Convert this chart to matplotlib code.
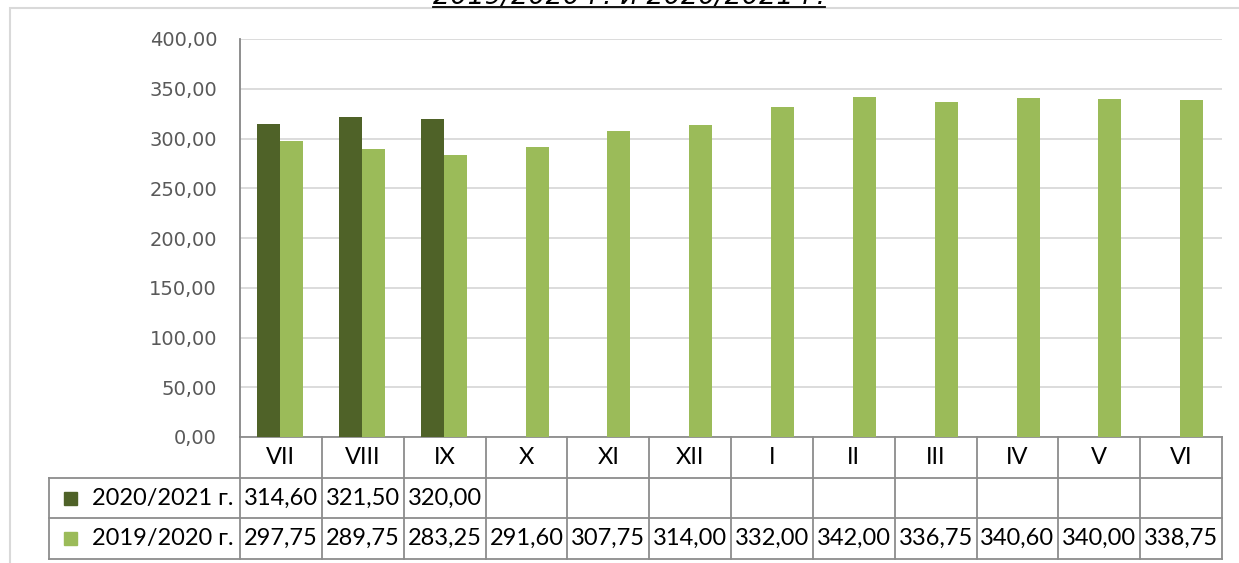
import matplotlib.pyplot as plt
from matplotlib.patches import Rectangle
from matplotlib.ticker import FuncFormatter, MultipleLocator
from matplotlib.lines import Line2D

months = ['VII', 'VIII', 'IX', 'X', 'XI', 'XII', 'I', 'II', 'III', 'IV', 'V', 'VI']
season_2021 = [314.60, 321.50, 320.00]
season_2020 = [297.75, 289.75, 283.25, 291.60, 307.75, 314.00,
               332.00, 342.00, 336.75, 340.60, 340.00, 338.75]
labels = ['2020/2021 г.', '2019/2020 г.']
title = '2019/2020 г. и 2020/2021 г.'

dark = '#4F6228'
light = '#9BBB59'
line_col = '#8C8C8C'


def fmt(v):
    return f'{v:.2f}'.replace('.', ',')


fig = plt.figure(figsize=(12.39, 5.63), dpi=100)
ax = fig.add_axes([240 / 1239, 126 / 563, 982 / 1239, 398 / 563])

x = list(range(len(months)))
ax.bar([i - 0.15 for i in x[:len(season_2021)]], season_2021, width=0.28, color=dark, zorder=3)
ax.bar([i + 0.13 for i in x], season_2020, width=0.28, color=light, zorder=3)

ax.set_xlim(-0.5, len(months) - 0.5)
ax.set_ylim(0, 400)
ax.yaxis.set_major_locator(MultipleLocator(50))
ax.yaxis.set_major_formatter(FuncFormatter(lambda v, p: fmt(v)))
ax.tick_params(axis='y', length=0, pad=16.5, labelsize=14, labelcolor='#595959')
ax.set_xticks([])
ax.grid(axis='y', color='#D9D9D9', linewidth=1.3, zorder=0)
for s in ['top', 'right', 'bottom']:
    ax.spines[s].set_visible(False)
ax.spines['left'].set_color('#868686')
ax.spines['left'].set_linewidth(1.3)

# data table under the plot
tr = ax.get_xaxis_transform()
row_h = 40.7 / 398
px = 982 / 12
label_left = -0.5 - 191 / px
tfont = dict(family='Lato', fontsize=17, color='black')
kw = dict(transform=tr, clip_on=False, color=line_col, linewidth=1.3)

# horizontal lines
ax.add_line(Line2D([-0.5, 11.5], [0, 0], **kw))
for k in (1, 2, 3):
    ax.add_line(Line2D([label_left, 11.5], [-k * row_h, -k * row_h], **kw))
# vertical lines
for b in [i - 0.5 for i in x] + [11.5]:
    ax.add_line(Line2D([b, b], [0, -3 * row_h], **kw))
ax.add_line(Line2D([label_left, label_left], [-row_h, -3 * row_h], **kw))

for i, m in enumerate(months):
    ax.text(i, -0.5 * row_h, m, ha='center', va='center', transform=tr, **tfont)

rows = [season_2021, season_2020]
colors = [dark, light]
for r, (vals, lab, c) in enumerate(zip(rows, labels, colors)):
    yc = -(r + 1.5) * row_h
    for i, v in enumerate(vals):
        ax.text(i, yc, fmt(v), ha='center', va='center', transform=tr, **tfont)
    ax.add_patch(Rectangle((label_left + 15 / px, yc - 6.5 / 398), 13 / px, 13 / 398,
                           transform=tr, clip_on=False, color=c))
    ax.text(label_left + 43 / px, yc, lab, ha='left', va='center', transform=tr, **tfont)

# outer chart frame (partly cut off)
fig.patches.append(Rectangle((10 / 1239, -0.1), 1.2, (563 - 8) / 563 + 0.1,
                             transform=fig.transFigure, fill=False,
                             edgecolor='#D9D9D9', linewidth=1.5))

# title cut at the top edge, underlined
t = fig.text(0.508, 1 - 4 / 563, title, ha='center', va='baseline',
             fontsize=19.5, style='italic', color='black')
fig.canvas.draw()
bb = t.get_window_extent().transformed(fig.transFigure.inverted())
fig.lines.append(Line2D([bb.x0, bb.x1], [1 - 6.5 / 563] * 2, transform=fig.transFigure,
                        color='black', linewidth=1.3))

fig.savefig('out.png', dpi=100)
